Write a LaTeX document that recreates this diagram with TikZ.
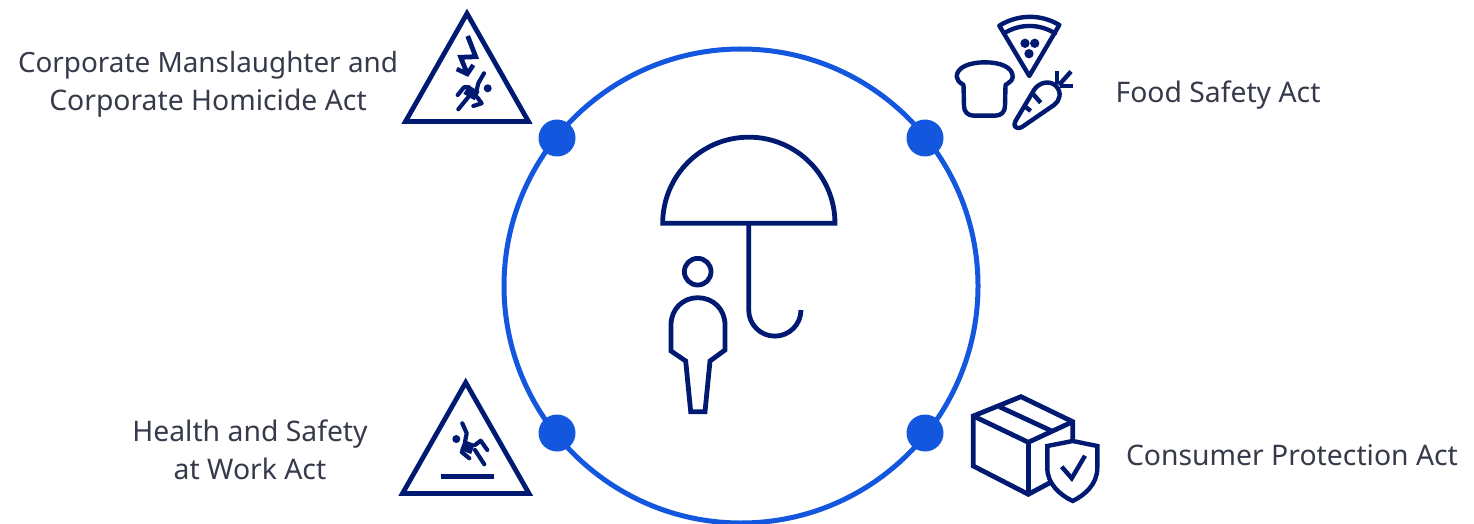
\documentclass[tikz,border=0pt]{standalone}
\usepackage{fontspec}
\setmainfont{Noto Sans}
\definecolor{navy}{HTML}{001A72}
\definecolor{ringblue}{HTML}{1357DF}
\definecolor{txt}{HTML}{363A4A}
\newcommand{\tightline}{\fontsize{20.9}{28.5}\selectfont}
\tikzset{
  icon/.style={draw=navy,line width=3.6pt,line join=miter,fill=none},
  thin icon/.style={draw=navy,line width=3.3pt,line join=round,line cap=round,fill=none},
  limb/.style={draw=navy,line width=3.1pt,line join=round,line cap=round},
  solid mark/.style={fill=navy,draw=none},
  ring/.style={circle,draw=ringblue,line width=3.75pt,minimum size=355.5pt,inner sep=0pt,outer sep=0pt},
  dot/.style={circle,fill=ringblue,minimum size=27.75pt,inner sep=0pt,outer sep=0pt},
  label/.style={text=txt,font=\fontsize{21.25}{28.5}\selectfont,align=center,inner sep=0pt}
}
\begin{document}
\begin{tikzpicture}[x=0.75pt,y=-0.75pt]
\useasboundingbox (0,0) rectangle (1474,524);
% ring and dots
\node[ring] (ring) at (741,286) {};
\node[dot] (dotA) at (557,138) {};
\node[dot] (dotB) at (925,138) {};
\node[dot] (dotC) at (557,433) {};
\node[dot] (dotD) at (925,433) {};
% labels
\node[label] (lawA) at (208,84) {{\tightline Corporate Manslaughter and}\\Corporate Homicide Act};
\node[label] (lawB) at (1218,95) {Food Safety Act};
\node[label] (lawC) at (250,449.5) {Health and Safety\\at Work Act};
\node[label] (lawD) at (1292,455) {Consumer Protection Act};
% umbrella and person
\draw[icon] (662.7,223.3) arc[start angle=180,end angle=0,radius=64.6pt] -- cycle;
\draw[icon] (748.7,223.3) -- (748.7,310) arc[start angle=180,end angle=360,radius=19.6pt];
\draw[icon] (697.7,271.7) circle[radius=10pt];
\draw[icon] (671,351) -- (671,325) .. controls (671,309) and (683,297.7) .. (697.7,297.7)
  .. controls (713,297.7) and (725,309) .. (725,325) -- (725,350) -- (710,361) -- (705,411.7)
  -- (690.7,411.7) -- (685.7,361) -- cycle;
% triangle A with bolt and falling figure
\draw[icon] (467,13.5) -- (528.5,121.5) -- (405.5,121.5) -- cycle;
\draw[icon] (467.7,36) -- (475.7,56.7) -- (460.7,57.3) -- (467.3,74);
\draw[icon,line width=3.4pt] (456.7,69) -- (467.3,74) -- (473.3,65);
\fill[solid mark] (487.7,88.3) circle[radius=3pt];
\draw[limb] (484,73.3) -- (478.3,83.3) -- (476,93);
\draw[limb,line width=7.5pt,line cap=butt] (477,96) -- (466,89.5);
\draw[limb] (469,87.3) -- (464,87.3) -- (457.7,95);
\draw[limb] (470,95) -- (458.3,109.3);
\draw[limb] (477,97) -- (481.7,103.3) -- (473.3,106);
% food icons
\draw[thin icon] (999.3,25.7) .. controls (1018,14) and (1041,14) .. (1059.3,25) -- (1029.3,76) -- cycle;
\draw[thin icon] (1004,33.3) .. controls (1020,23.5) and (1039,23.5) .. (1055,33.3);
\fill[solid mark] (1025,43.3) circle[radius=3.5pt];
\fill[solid mark] (1034.7,43.3) circle[radius=3.5pt];
\fill[solid mark] (1029,53.7) circle[radius=3.5pt];
\draw[thin icon] (963.5,85) .. controls (959,82) and (956.7,80) .. (956.7,76.7)
  .. controls (956.7,67) and (970,62.3) .. (985,62.3)
  .. controls (1000,62.3) and (1012.7,67) .. (1012.7,76.7)
  .. controls (1012.7,80) and (1010,82) .. (1005.5,85)
  -- (1005,106) .. controls (1005,112) and (1001,115.7) .. (995,115.7)
  -- (974,115.7) .. controls (968,115.7) and (964,112) .. (964,106) -- cycle;
\draw[thin icon] (1015.5,121) -- (1034,90) .. controls (1039,82) and (1050,80) .. (1056,86)
  .. controls (1062,92) and (1060,101) .. (1054,105) -- (1022,127)
  .. controls (1016,130) and (1012.5,126) .. (1015.5,121) -- cycle;
\draw[thin icon,line cap=butt] (1033.3,94.3) -- (1040.7,102.7);
\draw[thin icon,line cap=butt] (1023.3,105) -- (1030.7,111);
\draw[thin icon,line cap=butt] (1056.7,71) -- (1056.7,84);
\draw[thin icon,line cap=butt] (1071,71.5) -- (1059,85);
\draw[thin icon,line cap=butt] (1073,86) -- (1060,86);
% triangle C with falling figure
\draw[icon] (465.7,382.5) -- (529,493.5) -- (402.5,493.5) -- cycle;
\fill[solid mark] (456.3,439) circle[radius=3pt];
\draw[limb] (462.3,423.3) -- (466.7,433.3) -- (465,441.7);
\draw[limb,line width=8pt,line cap=butt] (462,445) -- (473,449);
\draw[limb] (475,445) -- (480.7,440.7) -- (487.3,450);
\draw[limb] (461.7,452) -- (469.3,458.3);
\draw[limb] (475,450) -- (484.3,464.3);
\draw[draw=navy,line width=3.6pt] (440.7,476.7) -- (494,476.7);
% box and shield
\draw[icon] (1050,482.7) -- (1028.3,494.3) -- (973.3,466) -- (973.3,416) -- (1021,396.7) -- (1072.7,421.7) -- (1072.7,440);
\draw[icon] (973.3,416) -- (1028.3,442.3) -- (1072.7,421.7);
\draw[icon] (1028.3,442.3) -- (1028.3,494.3);
\draw[icon] (999.3,406.7) -- (1051.7,431);
\draw[thin icon,line cap=butt,line join=miter] (1047.3,446) -- (1072.7,441) -- (1097.3,446) -- (1097.3,468)
  .. controls (1097.3,484) and (1085,495) .. (1072.7,501)
  .. controls (1060,495) and (1047.3,484) .. (1047.3,468) -- cycle;
\draw[thin icon,line cap=butt,line join=miter] (1061.7,466.7) -- (1071.7,478.3) -- (1085,455.7);
\end{tikzpicture}
\end{document}
